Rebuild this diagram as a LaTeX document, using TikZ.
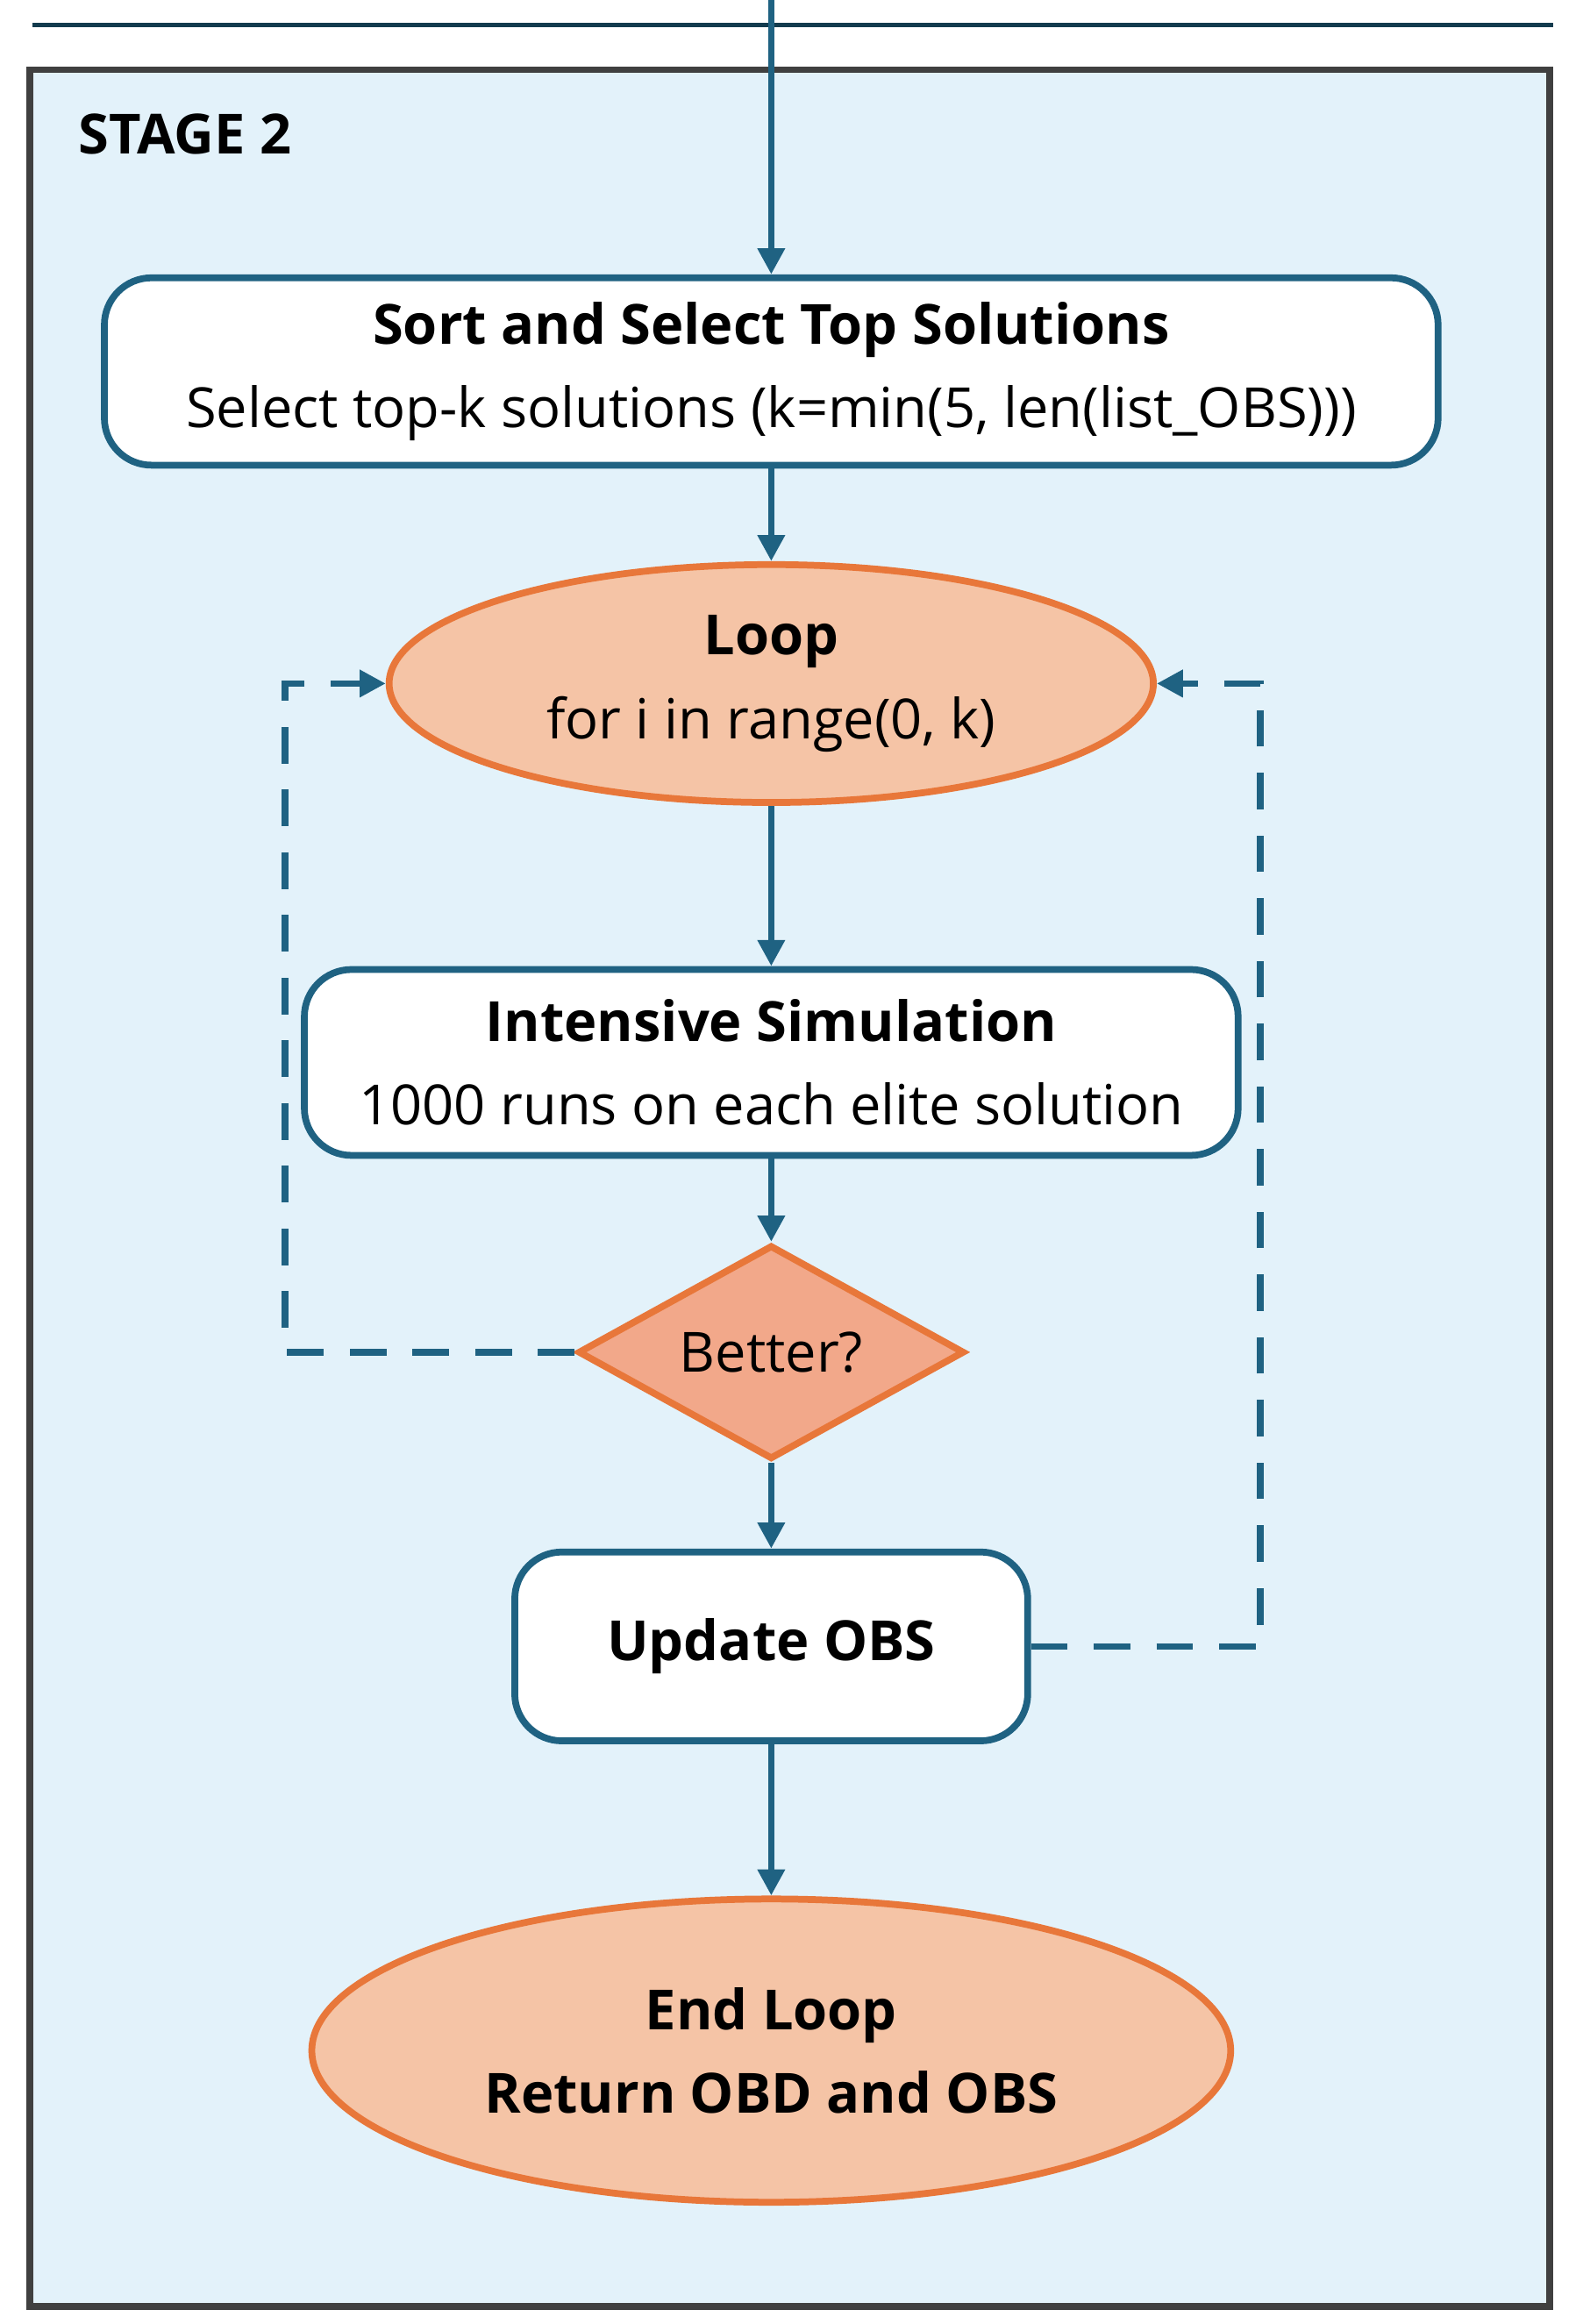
\documentclass[tikz,border=0pt]{standalone}
\usepackage{fontspec}
\setmainfont{Open Sans}
\usetikzlibrary{shapes.geometric,arrows.meta}
\definecolor{bgblue}{HTML}{E3F2FA}
\definecolor{lnblue}{HTML}{1F6282}
\definecolor{orfill}{HTML}{F5C4A6}
\definecolor{orline}{HTML}{E8773A}
\definecolor{dmfill}{HTML}{F2A88A}
\begin{document}
\begin{tikzpicture}[x=0.01cm,y=-0.01cm,
  box/.style={draw=lnblue,line width=1.3pt,fill=white,rounded corners=9pt,align=center,inner sep=0pt,font=\fontsize{10.6}{16}\selectfont},
  oval/.style={ellipse,draw=orline,line width=1.3pt,fill=orfill,align=center,inner sep=0pt,font=\fontsize{10.6}{16}\selectfont},
  arr/.style={draw=lnblue,line width=1.3pt,-{Triangle[length=5pt,width=5pt]}},
  darr/.style={arr,dashed,dash pattern=on 7pt off 5pt}]
\useasboundingbox (0,0) rectangle (1060,1564);
\draw[lnblue!60!black,line width=0.8pt] (22,17) -- (1045,17);
\draw[fill=bgblue,draw=black!75,line width=1.3pt] (20,47) rectangle (1043,1552);
\node[anchor=west,inner sep=0pt,font=\fontsize{10.6}{12}\selectfont\bfseries] (stage) at (52,90) {STAGE 2};
\coordinate (top) at (519,0);
\node[box,minimum width=8.97cm,minimum height=1.26cm] (sort) at (519,250) {\textbf{Sort and Select Top Solutions}\\Select top-k solutions (k=min(5, len(list\_OBS)))};
\node[oval,minimum width=5.14cm,minimum height=1.6cm] (loop) at (519,460) {\textbf{Loop}\\for i in range(0, k)};
\node[box,minimum width=6.28cm,minimum height=1.25cm] (sim) at (519,715) {\textbf{Intensive Simulation}\\1000 runs on each elite solution};
\node[diamond,draw=orline,line width=1.3pt,fill=dmfill,minimum width=2.6cm,minimum height=1.44cm,inner sep=0pt,aspect=1.8,font=\fontsize{10.6}{12}\selectfont] (better) at (519,910) {Better?};
\node[box,minimum width=3.45cm,minimum height=1.27cm,font=\fontsize{10.6}{12}\selectfont\bfseries] (upd) at (519,1108) {Update OBS};
\node[oval,minimum width=6.18cm,minimum height=2.04cm,font=\fontsize{10.6}{16}\selectfont\bfseries] (end) at (519,1380) {End Loop\\Return OBD and OBS};
\draw[arr] (top) -- (sort.north);
\draw[arr] (sort) -- (loop);
\draw[arr] (loop) -- (sim);
\draw[arr] (sim) -- (better);
\draw[arr] (better) -- (upd);
\draw[arr] (upd) -- (end);
\draw[darr] (better.west) -- (192,910) -- (192,460) -- (loop.west);
\draw[darr] (upd.east) -- (848,1108) -- (848,460) -- (loop.east);
\end{tikzpicture}
\end{document}
